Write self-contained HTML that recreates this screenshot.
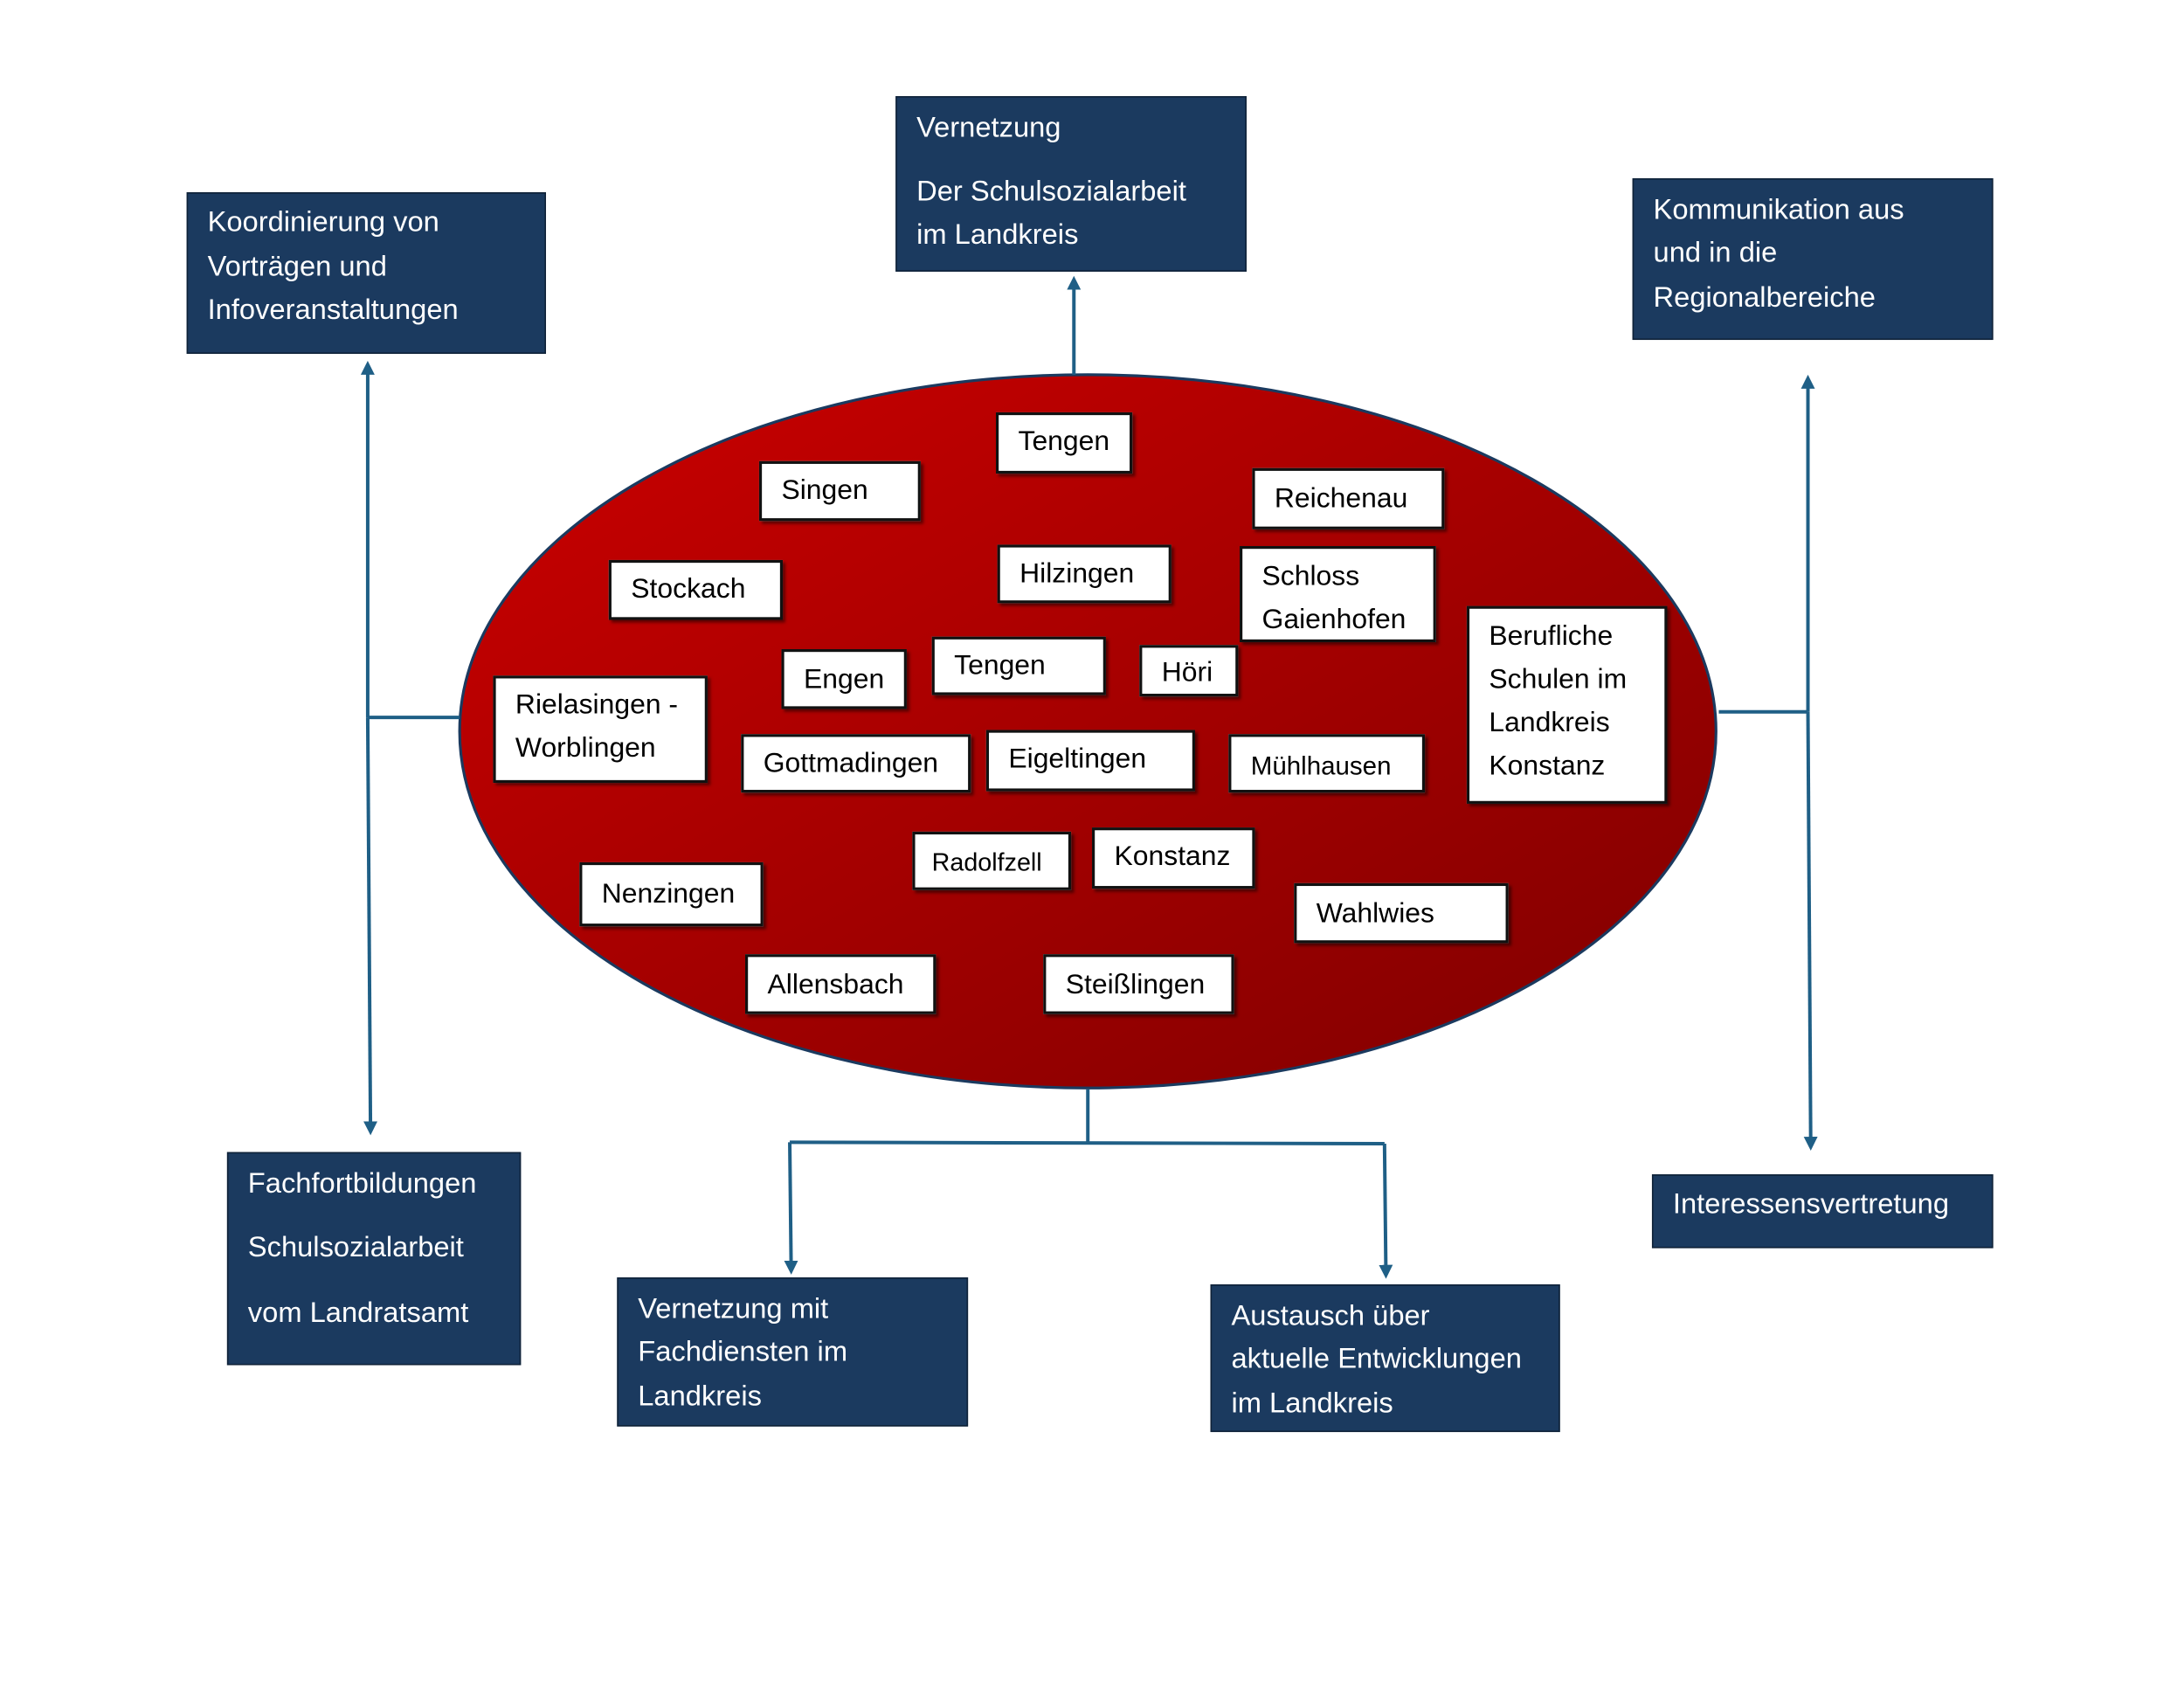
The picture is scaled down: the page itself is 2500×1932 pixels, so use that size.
<!DOCTYPE html>
<html><head><meta charset="utf-8"><style>
html,body{margin:0;padding:0;background:#fff;width:2500px;height:1932px;overflow:hidden}
#w{position:absolute;left:0;top:0;width:1568px;height:1212px;transform:scale(1.5944);transform-origin:0 0;font-family:"Liberation Sans",sans-serif}
.n{position:absolute;background:#1b3a5f;border:1px solid #0f2238;color:#fff;font-size:20.5px;box-sizing:border-box;padding-left:14px}
.n div{position:absolute;left:14px;white-space:nowrap}
.b{position:absolute;background:#fff;border:2px solid #111;box-shadow:2px 2px 2px rgba(0,0,0,.5);box-sizing:border-box;font-size:20px;color:#000;padding:6px 0 0 14px;line-height:31px;white-space:nowrap}
</style></head><body><div id="w">
<svg width="1568" height="1212" style="position:absolute;left:0;top:0">
<defs><linearGradient id="g" x1="0" y1="0" x2="1" y2="1"><stop offset="0" stop-color="#cc0000"/><stop offset="1" stop-color="#7e0000"/></linearGradient>
<marker id="a" markerWidth="10" markerHeight="10" refX="5" refY="5" orient="auto" markerUnits="userSpaceOnUse"><path d="M0,0 L10,5 L0,10 z" fill="#1f5f86"/></marker></defs>
<ellipse cx="781" cy="525" rx="451" ry="256" fill="url(#g)" stroke="#1b3a5f" stroke-width="2"/>
<g stroke="#1f5f86" stroke-width="2.5" fill="none">
<line x1="264" y1="515" x2="264" y2="264" marker-end="url(#a)"/>
<line x1="264" y1="515" x2="266" y2="810" marker-end="url(#a)"/>
<line x1="264" y1="515" x2="330" y2="515"/>
<line x1="771" y1="269" x2="771" y2="203" marker-end="url(#a)"/>
<line x1="1234" y1="511" x2="1298" y2="511"/>
<line x1="1298" y1="511" x2="1298" y2="274" marker-end="url(#a)"/>
<line x1="1298" y1="511" x2="1300" y2="821" marker-end="url(#a)"/>
<line x1="781" y1="782" x2="781" y2="820"/>
<polyline points="567,820 994,821"/>
<line x1="567" y1="820" x2="568" y2="910" marker-end="url(#a)"/>
<line x1="994" y1="821" x2="995" y2="913" marker-end="url(#a)"/>
</g></svg>
<div class="n" style="left:134px;top:138px;width:258px;height:116px"><div style="top:9px">Koordinierung von</div><div style="top:41px">Vorträgen und</div><div style="top:72px">Infoveranstaltungen</div></div>
<div class="n" style="left:643px;top:69px;width:252px;height:126px"><div style="top:10px">Vernetzung</div><div style="top:56px">Der Schulsozialarbeit</div><div style="top:87px">im Landkreis</div></div>
<div class="n" style="left:1172px;top:128px;width:259px;height:116px"><div style="top:10px">Kommunikation aus</div><div style="top:41px">und in die</div><div style="top:73px">Regionalbereiche</div></div>
<div class="n" style="left:163px;top:827px;width:211px;height:153px"><div style="top:10px">Fachfortbildungen</div><div style="top:56px">Schulsozialarbeit</div><div style="top:103px">vom Landratsamt</div></div>
<div class="n" style="left:443px;top:917px;width:252px;height:107px"><div style="top:10px">Vernetzung mit</div><div style="top:41px">Fachdiensten im</div><div style="top:73px">Landkreis</div></div>
<div class="n" style="left:869px;top:922px;width:251px;height:106px"><div style="top:10px">Austausch über</div><div style="top:41px">aktuelle Entwicklungen</div><div style="top:73px">im Landkreis</div></div>
<div class="n" style="left:1186px;top:843px;width:245px;height:53px"><div style="top:9px">Interessensvertretung</div></div>

<div class="b" style="left:715px;top:296px;width:98px;height:44px;padding-top:4px">Tengen</div>
<div class="b" style="left:545px;top:331px;width:116px;height:43px;padding-top:4px">Singen</div>
<div class="b" style="left:899px;top:336px;width:138px;height:44px;padding-top:5px">Reichenau</div>
<div class="b" style="left:437px;top:402px;width:125px;height:43px;padding-top:4px">Stockach</div>
<div class="b" style="left:716px;top:391px;width:125px;height:42px;padding-top:4px">Hilzingen</div>
<div class="b" style="left:890px;top:392px;width:141px;height:69px;padding-top:5px">Schloss<br>Gaienhofen</div>
<div class="b" style="left:1053px;top:435px;width:144px;height:142px;padding-top:5px">Berufliche<br>Schulen im<br>Landkreis<br>Konstanz</div>
<div class="b" style="left:561px;top:466px;width:90px;height:43px;padding-top:5px">Engen</div>
<div class="b" style="left:669px;top:457px;width:125px;height:42px;padding-top:4px">Tengen</div>
<div class="b" style="left:818px;top:463px;width:71px;height:37px;padding-top:3px">Höri</div>
<div class="b" style="left:354px;top:485px;width:154px;height:77px;padding-top:4px">Rielasingen -<br>Worblingen</div>
<div class="b" style="left:532px;top:527px;width:165px;height:42px;padding-top:4px">Gottmadingen</div>
<div class="b" style="left:708px;top:524px;width:150px;height:44px;padding-top:4px">Eigeltingen</div>
<div class="b" style="left:882px;top:527px;width:141px;height:42px;padding-top:5px;font-size:18.5px">Mühlhausen</div>
<div class="b" style="left:655px;top:597px;width:114px;height:42px;padding:5px 0 0 12px;font-size:18px">Radolfzell</div>
<div class="b" style="left:784px;top:594px;width:117px;height:44px;padding-top:4px">Konstanz</div>
<div class="b" style="left:416px;top:619px;width:132px;height:46px;padding-top:6px">Nenzingen</div>
<div class="b" style="left:929px;top:634px;width:154px;height:43px;padding-top:5px">Wahlwies</div>
<div class="b" style="left:535px;top:685px;width:137px;height:43px;padding-top:5px">Allensbach</div>
<div class="b" style="left:749px;top:685px;width:137px;height:43px;padding-top:5px">Steißlingen</div>
</div></body></html>
